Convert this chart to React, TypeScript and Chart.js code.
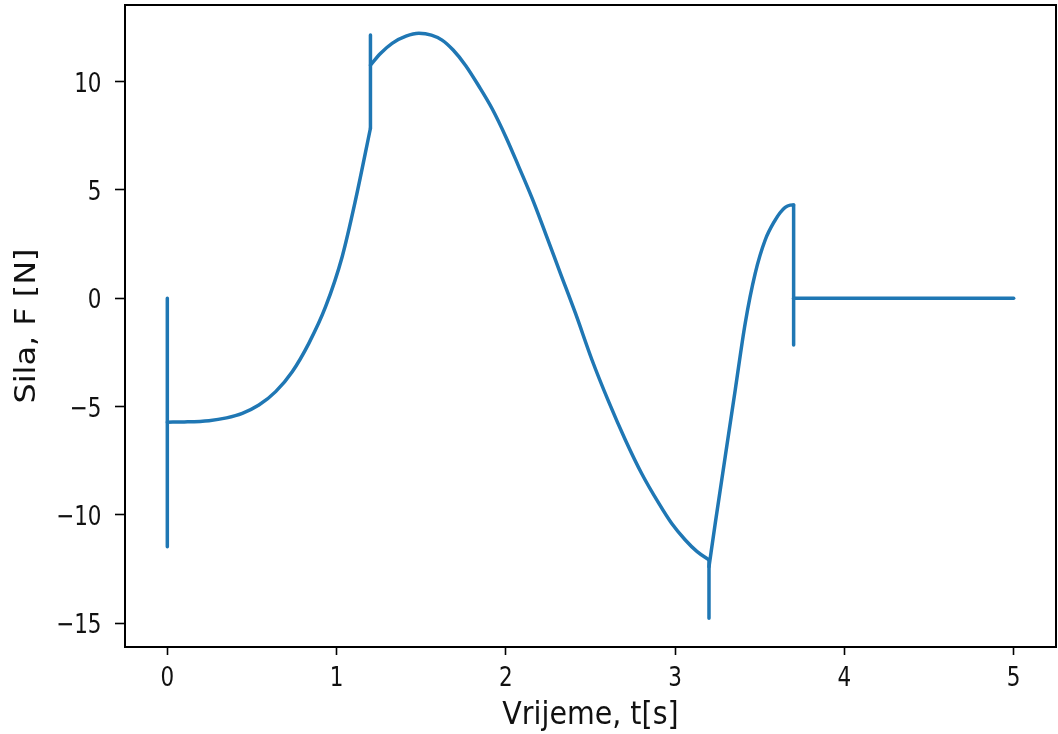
import React, { useEffect, useRef } from "react";
import { Chart, registerables } from "chart.js";

Chart.register(...registerables);

// Time (s) and force (N), split into smooth parts and jumps
const jump0T = [0, 0, 0];
const jump0F = [0, -11.47, -5.72];

const part1T = [0, 0.1, 0.246, 0.35, 0.443, 0.541, 0.64, 0.738, 0.836, 0.935, 1.033, 1.112, 1.2];
const part1F = [-5.72, -5.71, -5.65, -5.52, -5.31, -4.93, -4.31, -3.39, -2.08, -0.39, 1.92, 4.54, 7.85];

const jump1T = [1.2, 1.2, 1.2];
const jump1F = [7.85, 12.15, 10.76];

const part2T = [1.2, 1.259, 1.328, 1.41, 1.486, 1.56, 1.623, 1.69, 1.762, 1.84, 1.919, 2.0, 2.076, 2.156, 2.234, 2.32, 2.411, 2.509, 2.606, 2.706, 2.803, 2.903, 2.98, 3.06, 3.13, 3.2];
const part2F = [10.76, 11.3, 11.77, 12.1, 12.23, 12.15, 11.92, 11.45, 10.75, 9.8, 8.75, 7.45, 6.08, 4.6, 3.0, 1.2, -0.69, -2.85, -4.75, -6.54, -8.1, -9.46, -10.4, -11.16, -11.7, -12.08];

const jump2T = [3.2, 3.2, 3.2];
const jump2F = [-12.08, -14.77, -12.39];

const part3T = [3.2, 3.237, 3.296, 3.355, 3.414, 3.473, 3.532, 3.591, 3.62, 3.65, 3.68, 3.7];
const part3F = [-12.39, -10.39, -7.31, -4.23, -1.15, 1.15, 2.69, 3.61, 3.95, 4.2, 4.3, 4.31];

const jump3T = [3.7, 3.7, 3.7];
const jump3F = [4.31, -2.16, 0];

const part4T = [3.7, 5];
const part4F = [0, 0];

const xTicks = [0, 1, 2, 3, 4, 5];
const yTicks = [-15, -10, -5, 0, 5, 10];

const xLabel = "Vrijeme, t[s]";
const yLabel = "Sila, F [N]";

const LINE = "#1f77b4";
const FONT = "'DejaVu Sans', sans-serif";
const TEXT = "#111";

const pts = (t: number[], f: number[]) => t.map((v, i) => ({ x: v, y: f[i] }));
const fmt = (v: number) => (v < 0 ? "\u2212" + Math.abs(v) : String(v));

const framePlugin = {
  id: "frame",
  afterDraw(chart: any) {
    const { ctx, chartArea } = chart;
    const { left, top, right, bottom } = chartArea;
    ctx.save();
    ctx.strokeStyle = "#000";
    ctx.lineWidth = 2;
    ctx.strokeRect(left, top, right - left, bottom - top);
    ctx.restore();
  },
};

// The reference text is stretched vertically; draw it with a vertical scale
const TICK_SIZE = 21.5;
const TICK_SY = 1.27;
const LABEL_SIZE = 28.5;
const LABEL_SY = 1.12;

const textPlugin = {
  id: "texts",
  afterDraw(chart: any) {
    const { ctx, chartArea, scales } = chart;
    const xs = scales.x;
    const ys = scales.y;
    ctx.save();
    ctx.fillStyle = TEXT;
    ctx.textBaseline = "alphabetic";
    ctx.font = `${TICK_SIZE}px ${FONT}`;
    const half = 0.3645 * TICK_SIZE * TICK_SY;
    ctx.textAlign = "center";
    xTicks.forEach((v) => {
      const px = xs.getPixelForValue(v);
      ctx.save();
      ctx.translate(px, chartArea.bottom + 29.5 + half);
      ctx.scale(1, TICK_SY);
      ctx.fillText(fmt(v), 0, 0);
      ctx.restore();
    });
    ctx.textAlign = "right";
    yTicks.forEach((v) => {
      const py = ys.getPixelForValue(v);
      ctx.save();
      ctx.translate(chartArea.left - 23.5, py + half);
      ctx.scale(1, TICK_SY);
      ctx.fillText(fmt(v), 0, 0);
      ctx.restore();
    });
    ctx.font = `${LABEL_SIZE}px ${FONT}`;
    ctx.textAlign = "center";
    ctx.save();
    ctx.translate((chartArea.left + chartArea.right) / 2, 724);
    ctx.scale(1, LABEL_SY);
    ctx.fillText(xLabel, 0, 0);
    ctx.restore();
    ctx.save();
    ctx.translate(35, (chartArea.top + chartArea.bottom) / 2);
    ctx.rotate(-Math.PI / 2);
    ctx.scale(LABEL_SY, 1);
    ctx.fillText(yLabel, 0, 0);
    ctx.restore();
    ctx.restore();
  },
};

export default function App() {
  const ref = useRef<HTMLCanvasElement | null>(null);

  useEffect(() => {
    document.body.style.margin = "0";
    const canvas = ref.current;
    if (!canvas) return;

    const common = {
      borderColor: LINE,
      borderWidth: 3.5,
      pointRadius: 0,
      borderCapStyle: "round" as const,
      borderJoinStyle: "round" as const,
      fill: false,
    };
    const smooth = (t: number[], f: number[]) => ({
      ...common,
      data: pts(t, f),
      cubicInterpolationMode: "monotone" as const,
    });
    const jump = (t: number[], f: number[]) => ({
      ...common,
      data: pts(t, f),
      tension: 0,
    });

    const chart = new Chart(canvas, {
      type: "line",
      data: {
        datasets: [
          jump(jump0T, jump0F),
          smooth(part1T, part1F),
          jump(jump1T, jump1F),
          smooth(part2T, part2F),
          jump(jump2T, jump2F),
          smooth(part3T, part3F),
          jump(jump3T, jump3F),
          jump(part4T, part4F),
        ] as any,
      },
      options: {
        animation: false,
        responsive: false,
        devicePixelRatio: 1,
        layout: { padding: { left: 0, top: 5, right: 2, bottom: 0 } },
        plugins: {
          legend: { display: false },
          tooltip: { enabled: false },
        },
        scales: {
          x: {
            type: "linear",
            min: -0.25,
            max: 5.25,
            afterBuildTicks: (s: any) => {
              s.ticks = xTicks.map((v) => ({ value: v }));
            },
            afterFit: (s: any) => {
              s.height = 87;
              s.paddingLeft = 0;
              s.paddingRight = 0;
              s.paddingTop = 0;
              s.paddingBottom = 0;
            },
            grid: {
              drawOnChartArea: false,
              drawTicks: true,
              tickLength: 8,
              tickWidth: 1.6,
              tickColor: "#000",
            },
            border: { display: false },
            ticks: { display: false },
            title: { display: false },
          },
          y: {
            type: "linear",
            min: -16.1,
            max: 13.54,
            afterBuildTicks: (s: any) => {
              s.ticks = yTicks.map((v) => ({ value: v }));
            },
            afterFit: (s: any) => {
              s.width = 125;
              s.paddingLeft = 0;
              s.paddingRight = 0;
              s.paddingTop = 0;
              s.paddingBottom = 0;
            },
            grid: {
              drawOnChartArea: false,
              drawTicks: true,
              tickLength: 10,
              tickWidth: 1.6,
              tickColor: "#000",
            },
            border: { display: false },
            ticks: { display: false },
            title: { display: false },
          },
        },
      },
      plugins: [framePlugin, textPlugin],
    });

    return () => chart.destroy();
  }, []);

  return (
    <div style={{ width: 1058, height: 734 }}>
      <canvas ref={ref} width={1058} height={734} style={{ display: "block" }} />
    </div>
  );
}
